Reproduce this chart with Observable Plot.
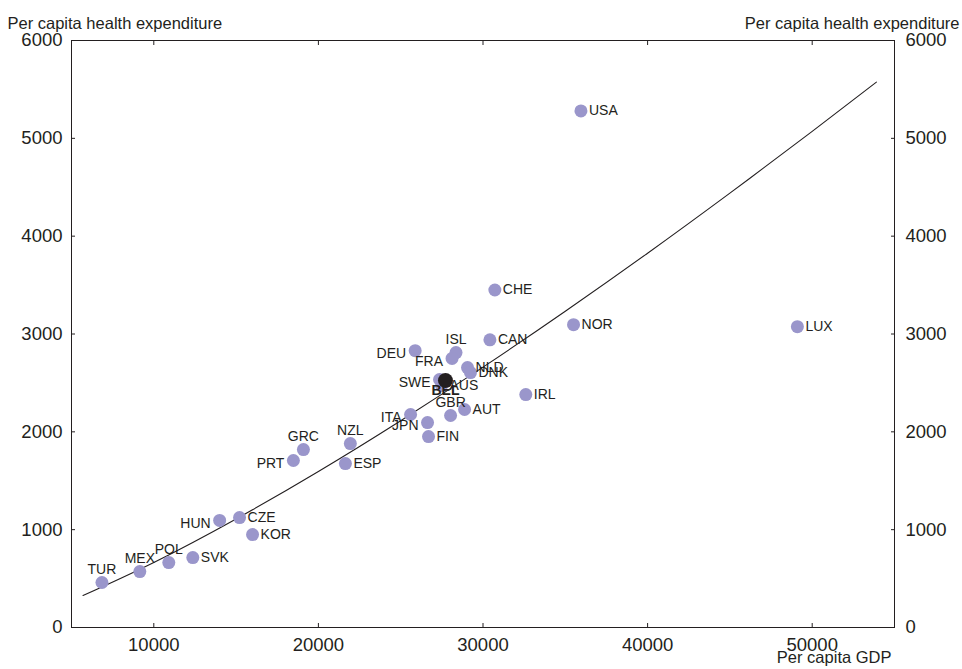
<!DOCTYPE html>
<html><head><meta charset="utf-8">
<script src="https://cdn.jsdelivr.net/npm/d3@7"></script>
<script src="https://cdn.jsdelivr.net/npm/@observablehq/plot@0.6"></script>
<style>body{margin:0;background:#fff} svg{display:block}</style>
</head><body><div id="chart"></div>
<script>
// Data
const countries = ["USA","CHE","NOR","LUX","CAN","ISL","DEU","FRA","NLD","DNK","SWE","AUS","BEL","GBR","AUT","IRL","ITA","JPN","FIN","NZL","ESP","GRC","PRT","HUN","CZE","KOR","SVK","POL","MEX","TUR"];
const gdp    = [35950,30720,35500,49100,30420,28360,25880,28120,29060,29240,27360,27480,27720,28030,28880,32600,25600,26630,26690,21940,21640,19090,18480,14000,15210,16000,12370,10910,9150,6850];
const health = [5280,3450,3095,3075,2940,2810,2830,2750,2657,2606,2535,2473,2524,2167,2228,2381,2177,2095,1952,1880,1676,1819,1707,1094,1124,950,715,664,572,460];

// Fitted curve
const fitGdp    = [5700,10000,15000,20000,25000,30000,35000,40000,45000,50000,53900];
const fitHealth = [327,665,1110,1595,2114,2661,3233,3826,4440,5071,5575];

const xTicks = [10000,20000,30000,40000,50000];
const yTicks = [0,1000,2000,3000,4000,5000,6000];
const highlighted = "BEL";

const yTitle = "Per capita health expenditure";
const xTitle = "Per capita GDP";

// label placement relative to the dot (styling, not data)
const labelPlacement = {
  DEU:"left", FRA:"left", SWE:"left", ITA:"left", JPN:"left", PRT:"left", HUN:"left",
  ISL:"above", GBR:"above", NZL:"above", GRC:"above", POL:"above", MEX:"above", TUR:"above",
  BEL:"below"
};

const data = countries.map((c,i)=>({country:c, gdp:gdp[i], health:health[i], place: labelPlacement[c] || "right"}));
const fit = fitGdp.map((g,i)=>({gdp:g, health:fitHealth[i]}));
const others = data.filter(d=>d.country!==highlighted);
const hl = data.filter(d=>d.country===highlighted);

const ink = "#231f20";
const dotColor = "#9a96cb";
const labelFont = 14;
const none = () => "";

const chart = Plot.plot({
  width: 962, height: 669,
  marginTop: 40, marginBottom: 42, marginLeft: 71, marginRight: 68,
  x: {domain: [5000, 55000]},
  y: {domain: [0, 6000]},
  style: {fontFamily: "'Liberation Sans', Arial, Helvetica, sans-serif", fontSize: "18.5px", color: ink, background: "#fff"},
  marks: [
    Plot.frame({stroke: ink}),
    // inward tick marks on all four sides
    Plot.axisX({anchor: "bottom", ticks: xTicks, tickSize: 4, dy: -4, label: null, tickFormat: none, stroke: ink}),
    Plot.axisX({anchor: "top", ticks: xTicks, tickSize: 4, dy: 4, label: null, tickFormat: none, stroke: ink}),
    Plot.axisY({anchor: "left", ticks: yTicks, tickSize: 4, dx: 4, label: null, tickFormat: none, stroke: ink}),
    Plot.axisY({anchor: "right", ticks: yTicks, tickSize: 4, dx: -4, label: null, tickFormat: none, stroke: ink}),
    // tick labels
    Plot.axisX({anchor: "bottom", ticks: xTicks, tickSize: 0, tickPadding: 10, label: null, tickFormat: d=>String(d), fill: ink}),
    Plot.axisY({anchor: "left", ticks: yTicks, tickSize: 0, tickPadding: 9, label: null, tickFormat: d=>String(d), fill: ink}),
    Plot.axisY({anchor: "right", ticks: yTicks, tickSize: 0, tickPadding: 11, label: null, tickFormat: d=>String(d), fill: ink}),
    Plot.line(fit, {x: "gdp", y: "health", curve: "natural", stroke: ink, strokeWidth: 1.1}),
    Plot.dot(others, {x: "gdp", y: "health", r: 6.5, fill: dotColor}),
    Plot.dot(hl, {x: "gdp", y: "health", r: 7.5, fill: ink}),
    Plot.text(data.filter(d=>d.place==="right"), {x:"gdp", y:"health", text:"country", textAnchor:"start", dx: 8, dy: 0, fontSize: labelFont, fill: ink}),
    Plot.text(data.filter(d=>d.place==="left"), {x:"gdp", y:"health", text:"country", textAnchor:"end", dx: -9, dy: 3, fontSize: labelFont, fill: ink}),
    Plot.text(data.filter(d=>d.place==="above"), {x:"gdp", y:"health", text:"country", textAnchor:"middle", dy: -13, fontSize: labelFont, fill: ink}),
    Plot.text(data.filter(d=>d.place==="below"), {x:"gdp", y:"health", text:"country", textAnchor:"middle", dy: 10, fontSize: labelFont, fontWeight: "bold", fill: ink}),
    Plot.text([yTitle], {frameAnchor: "top-left", textAnchor: "start", dx: -64, dy: -23, fontSize: 16.5, fill: ink}),
    Plot.text([yTitle], {frameAnchor: "top-right", textAnchor: "end", dx: 65, dy: -23, fontSize: 16.5, fill: ink}),
    Plot.text([xTitle], {frameAnchor: "bottom-right", textAnchor: "end", dx: -3, dy: 35, fontSize: 16.5, fill: ink})
  ]
});
document.getElementById("chart").appendChild(chart);
</script>
</body></html>
